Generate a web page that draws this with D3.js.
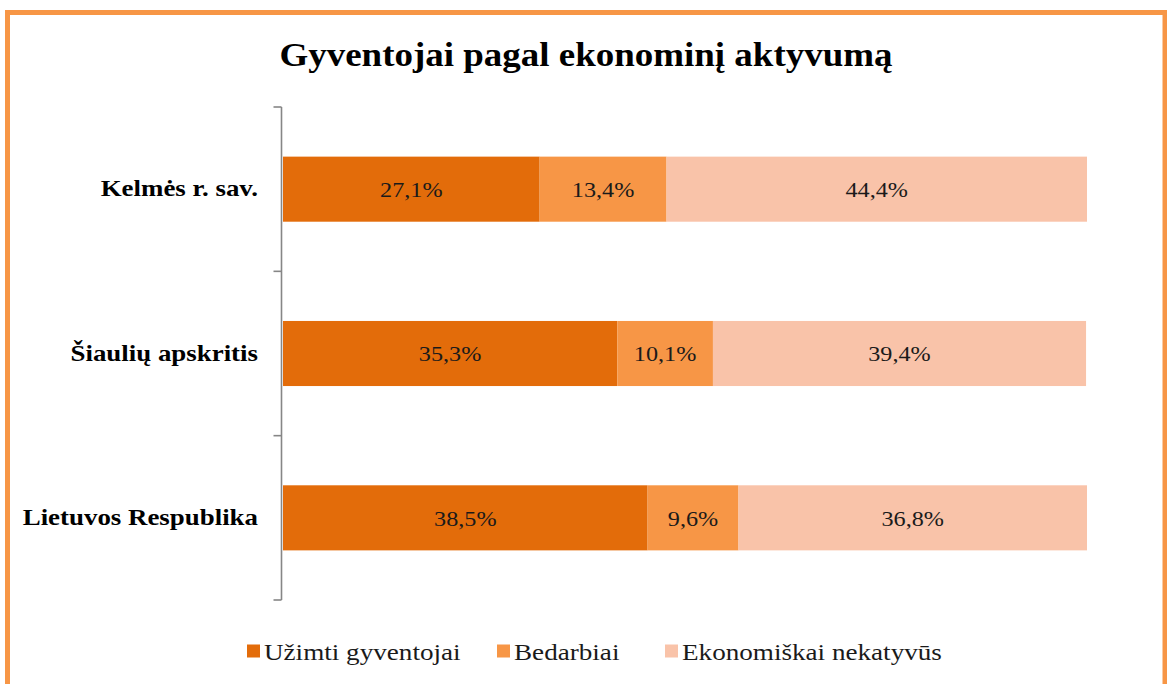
<!DOCTYPE html>
<html><head><meta charset="utf-8">
<script src="https://cdn.jsdelivr.net/npm/d3@7"></script>
<style>
html,body{margin:0;padding:0;background:#fff;}
svg{display:block;}
text{font-family:"Liberation Serif","Times New Roman",serif;}
</style></head>
<body>
<svg id="c" width="1167" height="684"></svg>
<script>
const categories = ["Kelmės r. sav.", "Šiaulių apskritis", "Lietuvos Respublika"];
const seriesNames = ["Užimti gyventojai", "Bedarbiai", "Ekonomiškai nekatyvūs"];
const uzimti = [27.1, 35.3, 38.5];
const bedarbiai = [13.4, 10.1, 9.6];
const nekatyvus = [44.4, 39.4, 36.8];
const colors = ["#E36C0A", "#F79646", "#F9C3A9"];

const svg = d3.select("#c");

// horizontal stretch helper (the reference text is a little wider than the font)
function stretch(sel, f) {
  sel.each(function () {
    const w = this.getComputedTextLength();
    d3.select(this).attr("textLength", w * f).attr("lengthAdjust", "spacingAndGlyphs");
  });
}

svg.append("rect").attr("x", 7.5).attr("y", 12.5).attr("width", 1157.5).attr("height", 700)
  .attr("fill", "#fff").attr("stroke", "#F79646").attr("stroke-width", 5);

const title = svg.append("text").attr("x", 586).attr("y", 66).attr("text-anchor", "middle")
  .attr("font-weight", "bold").attr("font-size", 33)
  .attr("fill", "#000").text("Gyventojai pagal ekonominį aktyvumą");
stretch(title, 1.12);

const rows = categories.map((c, i) => ({cat: c, vals: [uzimti[i], bedarbiai[i], nekatyvus[i]]}));
const maxTotal = d3.max(rows, r => d3.sum(r.vals));

const x = d3.scaleLinear().domain([0, maxTotal]).range([283, 1087]);
const yAxisScale = d3.scaleBand().domain(categories).range([107, 600]).padding(0);
const y = d3.scaleBand().domain(categories).range([107, 600]).paddingInner(0.604).paddingOuter(0.302);

const stackData = rows.map(r => {
  let acc = 0;
  return r.vals.map((v, k) => { const s = {cat: r.cat, k, x0: acc, x1: acc + v, v}; acc += v; return s; });
}).flat();

svg.append("g").selectAll("rect").data(stackData).join("rect")
  .attr("x", d => x(d.x0)).attr("width", d => x(d.x1) - x(d.x0))
  .attr("y", d => y(d.cat)).attr("height", y.bandwidth())
  .attr("fill", d => colors[d.k]);

const labels = svg.append("g").selectAll("text").data(stackData).join("text")
  .attr("x", d => (x(d.x0) + x(d.x1)) / 2).attr("y", d => y(d.cat) + y.bandwidth() / 2)
  .attr("dy", "0.36em").attr("text-anchor", "middle")
  .attr("font-size", 22).attr("fill", "#1a1a1a")
  .text(d => d3.format(".1f")(d.v).replace(".", ",") + "%");
stretch(labels, 1.1);

const axisX = 281.5;
const ag = svg.append("g");
ag.append("line").attr("x1", axisX).attr("x2", axisX).attr("y1", 107).attr("y2", 600)
  .attr("stroke", "#868686").attr("stroke-width", 1.6);
const tickYs = categories.map(c => yAxisScale(c)).concat([yAxisScale.range()[1]]);
ag.selectAll("line.t").data(tickYs).join("line").attr("class", "t")
  .attr("x1", axisX - 8).attr("x2", axisX).attr("y1", d => d).attr("y2", d => d)
  .attr("stroke", "#868686").attr("stroke-width", 1.6);

const cats = svg.append("g").selectAll("text").data(categories).join("text")
  .attr("x", 258).attr("y", d => y(d) + y.bandwidth() / 2).attr("dy", "0.3em")
  .attr("text-anchor", "end")
  .attr("font-weight", "bold").attr("font-size", 24)
  .attr("fill", "#000").text(d => d);
stretch(cats, 1.12);

const legX = [247, 497, 665];
const lg = svg.append("g").selectAll("g").data(seriesNames).join("g")
  .attr("transform", (d, i) => `translate(${legX[i]},651)`);
lg.append("rect").attr("x", 0).attr("y", -6.5).attr("width", 13).attr("height", 13)
  .attr("fill", (d, i) => colors[i]);
const lt = lg.append("text").attr("x", 17).attr("y", 0).attr("dy", "0.36em")
  .attr("font-size", 24).attr("fill", "#1a1a1a").text(d => d);
stretch(lt, 1.13);
</script>
</body></html>
